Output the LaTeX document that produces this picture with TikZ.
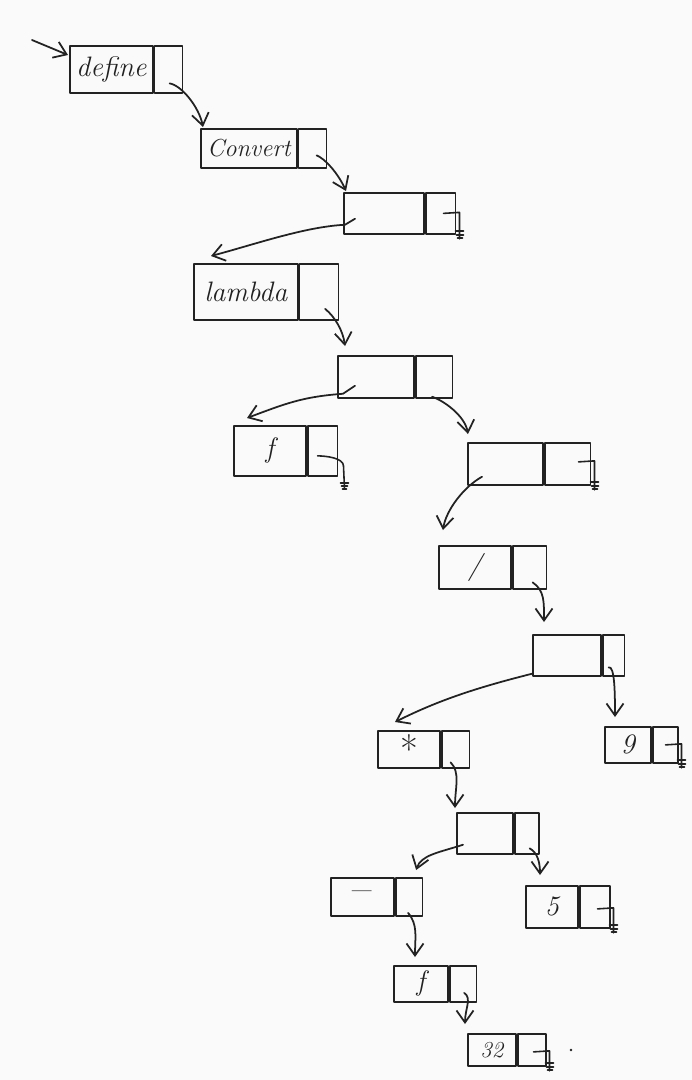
\documentclass[tikz,border=0pt]{standalone}
\usetikzlibrary{arrows.meta,calc}
\definecolor{ink}{RGB}{34,34,34}
\definecolor{paper}{RGB}{250,250,250}
\newcommand\nilsym[2][0]{%
  \draw[nilline] ($(#2.east)+(-13,#1)$) -- ($(#2.east)+(3,#1-1)$) -- ($(#2.south east)+(3,4)$);
  \draw[nilline] ($(#2.south east)+(-1,-4)$) -- +(8,0);
  \draw[nilline] ($(#2.south east)+(0,0)$) -- +(7,0);
  \draw[nilline] ($(#2.south east)+(1,3)$) -- +(5,0);
}
\begin{document}
\begin{tikzpicture}[x=0.02cm,y=-0.02cm,line width=1pt,line join=round,line cap=round,
  carbox/.style={draw=ink,rectangle,inner sep=0pt,anchor=north west,text=ink,
    font=\itshape\fontsize{16}{18}\selectfont},
  cdrbox/.style={draw=ink,rectangle,inner sep=0pt,anchor=north west},
  ptr/.style={draw=ink,-{Straight Barb[length=2.4mm,width=3.4mm]}},
  nilline/.style={draw=ink,line width=0.9pt}]
\fill[paper] (0,0) rectangle (692,1080);
\useasboundingbox (0,0) rectangle (692,1080);

% cells: car node aN, cdr node dN
\node[carbox,minimum width=1.66cm,minimum height=0.94cm] (a1) at (69,45) {define};
\node[cdrbox,minimum width=0.56cm,minimum height=0.94cm] (d1) at (a1.north east) {};

\node[carbox,minimum width=1.92cm,minimum height=0.78cm,font=\itshape\fontsize{14}{16}\selectfont] (a2) at (200,128) {Convert};
\node[cdrbox,minimum width=0.56cm,minimum height=0.78cm] (d2) at (a2.north east) {};

\node[carbox,minimum width=1.60cm,minimum height=0.82cm] (a3) at (343,192) {};
\node[cdrbox,minimum width=0.60cm,minimum height=0.82cm] (d3) at (a3.north east) {};

\node[carbox,minimum width=2.08cm,minimum height=1.12cm] (a4) at (193,263) {lambda};
\node[cdrbox,minimum width=0.78cm,minimum height=1.12cm] (d4) at (a4.north east) {};

\node[carbox,minimum width=1.52cm,minimum height=0.84cm] (a5) at (337,355) {};
\node[cdrbox,minimum width=0.74cm,minimum height=0.84cm] (d5) at (a5.north east) {};

\node[carbox,minimum width=1.44cm,minimum height=1.00cm] (a6) at (233,425) {f};
\node[cdrbox,minimum width=0.60cm,minimum height=1.00cm] (d6) at (a6.north east) {};

\node[carbox,minimum width=1.50cm,minimum height=0.84cm] (a7) at (467,442) {};
\node[cdrbox,minimum width=0.92cm,minimum height=0.84cm] (d7) at (a7.north east) {};

\node[carbox,minimum width=1.44cm,minimum height=0.86cm] (a8) at (438,545) {/};
\node[cdrbox,minimum width=0.68cm,minimum height=0.86cm] (d8) at (a8.north east) {};

\node[carbox,minimum width=1.36cm,minimum height=0.82cm] (a9) at (532,634) {};
\node[cdrbox,minimum width=0.44cm,minimum height=0.82cm] (d9) at (a9.north east) {};

\node[carbox,minimum width=0.92cm,minimum height=0.72cm] (a10) at (604,726) {9};
\node[cdrbox,minimum width=0.50cm,minimum height=0.72cm] (d10) at (a10.north east) {};

\node[carbox,minimum width=1.24cm,minimum height=0.74cm,font=\fontsize{22}{22}\selectfont] (a11) at (377,730) {*};
\node[cdrbox,minimum width=0.56cm,minimum height=0.74cm] (d11) at (a11.north east) {};

\node[carbox,minimum width=1.12cm,minimum height=0.82cm] (a12) at (456,812) {};
\node[cdrbox,minimum width=0.48cm,minimum height=0.82cm] (d12) at (a12.north east) {};

\node[carbox,minimum width=1.26cm,minimum height=0.76cm,font=\fontsize{24}{24}\selectfont] (a13) at (330,877) {\textendash};
\node[cdrbox,minimum width=0.54cm,minimum height=0.76cm] (d13) at (a13.north east) {};

\node[carbox,minimum width=1.04cm,minimum height=0.84cm] (a14) at (525,885) {5};
\node[cdrbox,minimum width=0.60cm,minimum height=0.84cm] (d14) at (a14.north east) {};

\node[carbox,minimum width=1.08cm,minimum height=0.72cm] (a15) at (393,965) {f};
\node[cdrbox,minimum width=0.54cm,minimum height=0.72cm] (d15) at (a15.north east) {};

\node[carbox,minimum width=0.96cm,minimum height=0.64cm,font=\itshape\fontsize{13}{15}\selectfont] (a16) at (467,1033) {32};
\node[cdrbox,minimum width=0.56cm,minimum height=0.64cm] (d16) at (a16.north east) {};

% entry pointer
\coordinate (s0) at (32,40);
\draw[ptr] (s0) -- ($(a1.north west)+(-1,10)$);

% cdr pointers
\draw[ptr] ($(d1.center)+(1,14)$) .. controls +(12,2) and +(-4,-20) .. ($(a2.north west)+(3,-1)$);
\draw[ptr] ($(d2.center)+(4,7)$) .. controls +(8,3) and +(-8,-18) .. ($(a3.north west)+(3,-1)$);
\draw[ptr] ($(d4.center)+(6,17)$) .. controls +(10,8) and +(-2,-15) .. ($(a5.north west)+(8,-9)$);
\draw[ptr] ($(d5.south)+(-2,-2)$) .. controls +(12,4) and +(-3,-18) .. ($(a7.north west)+(1,-8)$);
\draw[ptr] ($(d8.center)+(3,15)$) .. controls +(12,8) and +(0,-20) .. ($(a9.north west)+(12,-12)$);
\draw[ptr] ($(d9.center)+(-5,12)$) .. controls +(6,-2) and +(0,-25) .. ($(a10.north west)+(11,-9)$);
\draw[ptr] ($(d11.center)+(-5,13)$) .. controls +(10,10) and +(0,-20) .. ($(a12.north west)+(-1,-4)$);
\draw[ptr] ($(d12.center)+(3,15)$) .. controls +(8,4) and +(0,-12) .. ($(a14.north west)+(15,-10)$);
\draw[ptr] ($(d13.center)+(-1,16)$) .. controls +(10,12) and +(0,-20) .. ($(a15.north west)+(22,-8)$);
\draw[ptr] ($(d15.center)+(1,9)$) .. controls +(8,5) and +(0,-15) .. ($(a16.north west)+(-2,-9)$);

% car pointers
\draw[ptr] ($(a3.south west)+(12,-16)$) -- ($(a3.south west)+(2,-10)$) .. controls +(-40,2) and +(45,-12) .. ($(a4.north west)+(18,-7)$);
\draw[ptr] ($(a5.south west)+(18,-13)$) -- ($(a5.south west)+(6,-5)$) .. controls +(-40,3) and +(40,-15) .. ($(a6.north west)+(14,-7)$);
\draw[ptr] ($(a7.south west)+(15,-9)$) .. controls +(-18,10) and +(3,-20) .. ($(a8.north west)+(5,-15)$);
\draw[ptr] ($(a9.south west)+(0,-3)$) .. controls +(-60,15) and +(40,-20) .. ($(a11.north west)+(18,-8)$);
\draw[ptr] ($(a12.south west)+(7,-10)$) .. controls +(-25,8) and +(5,-15) .. ($(d13.north)+(7,-7)$);

% nil markers
\nilsym{d3}
\nilsym[-2]{d7}
\nilsym{d10}
\nilsym[2]{d14}
\nilsym[2]{d16}
\draw[nilline] ($(d6.center)+(-5,5)$) .. controls +(8,0) and +(0,-8) .. ($(d6.east)+(5,15)$) -- ($(d6.south east)+(6,12)$);
\draw[nilline] ($(d6.south east)+(2,6)$) -- +(8,0);
\draw[nilline] ($(d6.south east)+(3,9)$) -- +(6,0);
\draw[nilline] ($(d6.south east)+(4,12)$) -- +(4,0);

% stray dot
\fill[ink] (571,1050) circle (1.3);
\end{tikzpicture}
\end{document}
